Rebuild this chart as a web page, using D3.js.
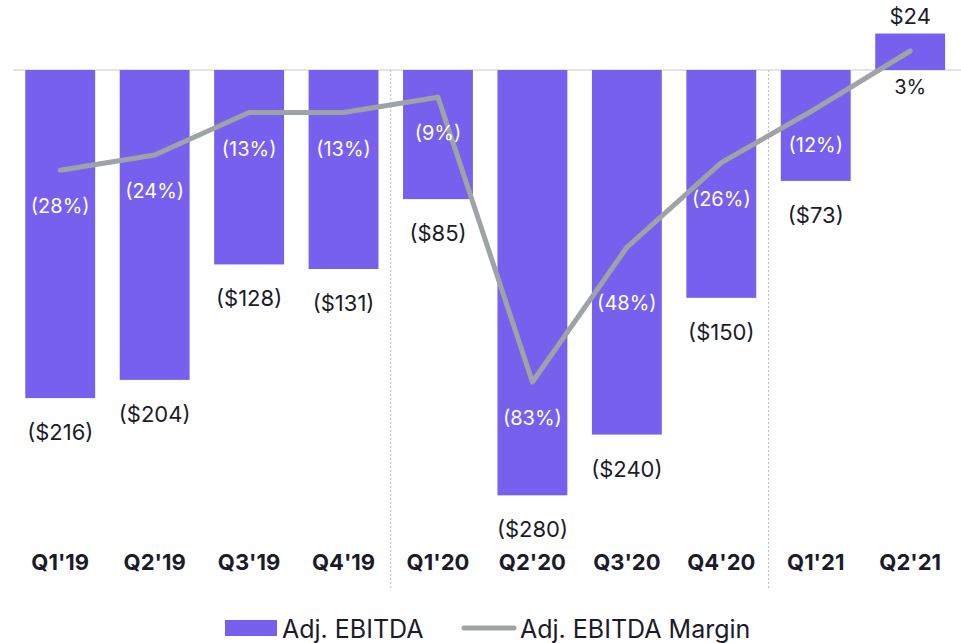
<!DOCTYPE html>
<html>
<head>
<meta charset="utf-8">
<script src="https://cdn.jsdelivr.net/npm/d3@7/dist/d3.min.js"></script>
<style>
  body { margin: 0; background: #fff; }
  text { font-family: Inter, "Open Sans", sans-serif; }
</style>
</head>
<body>
<div id="chart"></div>
<script>
var quarters = ["Q1'19", "Q2'19", "Q3'19", "Q4'19", "Q1'20", "Q2'20", "Q3'20", "Q4'20", "Q1'21", "Q2'21"];
var ebitda = [-216, -204, -128, -131, -85, -280, -240, -150, -73, 24];
var margin = [-28, -24, -13, -13, -9, -83, -48, -26, -12, 3];
var yearBreaks = ["Q1'20", "Q1'21"];

var width = 961,
    height = 643,
    baseY = 70,
    purple = "#7760ee",
    lineGrey = "#9ea3a6",
    textDark = "#1b1b2a";

var svg = d3.select("#chart").append("svg")
    .attr("width", width)
    .attr("height", height);

var x = d3.scaleBand()
    .domain(quarters)
    .range([13, 957.4])
    .paddingInner(0.26)
    .paddingOuter(0.13);

// bars: 1.519 px per $1M
var y = d3.scaleLinear()
    .domain([-280, 24])
    .range([baseY + 280 * 1.519, baseY - 24 * 1.519]);

// margin line has its own scale
var ym = d3.scaleLinear()
    .domain([-83, 3])
    .range([382, 51]);

var fmtMoney = function(v) { return v < 0 ? "($" + Math.abs(v) + ")" : "$" + v; };
var fmtPct = function(v) { return v < 0 ? "(" + Math.abs(v) + "%)" : v + "%"; };

// baseline
svg.append("line")
    .attr("x1", 13).attr("x2", width)
    .attr("y1", baseY).attr("y2", baseY)
    .attr("stroke", "#c9c9c9")
    .attr("stroke-width", 1);

// year separators
svg.selectAll(".sep")
    .data(yearBreaks).enter()
    .append("line")
    .attr("class", "sep")
    .attr("x1", function(d) { return x(d) - x.step() * x.paddingInner() / 2; })
    .attr("x2", function(d) { return x(d) - x.step() * x.paddingInner() / 2; })
    .attr("y1", baseY).attr("y2", 590)
    .attr("stroke", "#bdbdbd")
    .attr("stroke-width", 1)
    .attr("stroke-dasharray", "2,2");

var rows = quarters.map(function(q, i) { return { q: q, v: ebitda[i], m: margin[i] }; });

svg.selectAll(".bar")
    .data(rows).enter()
    .append("rect")
    .attr("class", "bar")
    .attr("x", function(d) { return x(d.q); })
    .attr("width", x.bandwidth())
    .attr("y", function(d) { return Math.min(y(d.v), y(0)); })
    .attr("height", function(d) { return Math.abs(y(d.v) - y(0)); })
    .attr("fill", purple);

// value labels
svg.selectAll(".val")
    .data(rows).enter()
    .append("text")
    .attr("class", "val")
    .attr("x", function(d) { return x(d.q) + x.bandwidth() / 2; })
    .attr("y", function(d) { return d.v < 0 ? y(d.v) + 42 : y(d.v) - 10; })
    .attr("text-anchor", "middle")
    .attr("font-size", 22)
    .attr("fill", textDark)
    .text(function(d) { return fmtMoney(d.v); });

// margin line
var line = d3.line()
    .x(function(d) { return x(d.q) + x.bandwidth() / 2; })
    .y(function(d) { return ym(d.m); });

svg.append("path")
    .datum(rows)
    .attr("d", line)
    .attr("fill", "none")
    .attr("stroke", lineGrey)
    .attr("stroke-width", 5)
    .attr("stroke-linejoin", "round")
    .attr("stroke-linecap", "round");

// margin labels (Q3'20 nudged off the steep line)
svg.selectAll(".pct")
    .data(rows).enter()
    .append("text")
    .attr("class", "pct")
    .attr("x", function(d) { return x(d.q) + x.bandwidth() / 2; })
    .attr("y", function(d) { return ym(d.m) + (d.q == "Q3'20" ? 63 : 43); })
    .attr("text-anchor", "middle")
    .attr("font-size", 20)
    .attr("fill", function(d) { return d.v > 0 ? textDark : "#fff"; })
    .text(function(d) { return fmtPct(d.m); });

// category axis
svg.selectAll(".cat")
    .data(quarters).enter()
    .append("text")
    .attr("class", "cat")
    .attr("x", function(d) { return x(d) + x.bandwidth() / 2; })
    .attr("y", 570)
    .attr("text-anchor", "middle")
    .attr("font-size", 22)
    .attr("font-weight", "bold")
    .attr("fill", textDark)
    .text(function(d) { return d; });

// legend
var lg = svg.append("g").attr("transform", "translate(0,628)");
lg.append("rect")
    .attr("x", 225).attr("y", -8)
    .attr("width", 52).attr("height", 16)
    .attr("fill", purple);
lg.append("text")
    .attr("x", 282).attr("y", 10)
    .attr("font-size", 25)
    .attr("fill", textDark)
    .text("Adj. EBITDA");
lg.append("line")
    .attr("x1", 464).attr("x2", 514)
    .attr("y1", 0).attr("y2", 0)
    .attr("stroke", lineGrey)
    .attr("stroke-width", 5)
    .attr("stroke-linecap", "round");
lg.append("text")
    .attr("x", 520).attr("y", 10)
    .attr("font-size", 25)
    .attr("fill", textDark)
    .text("Adj. EBITDA Margin");
</script>
</body>
</html>
